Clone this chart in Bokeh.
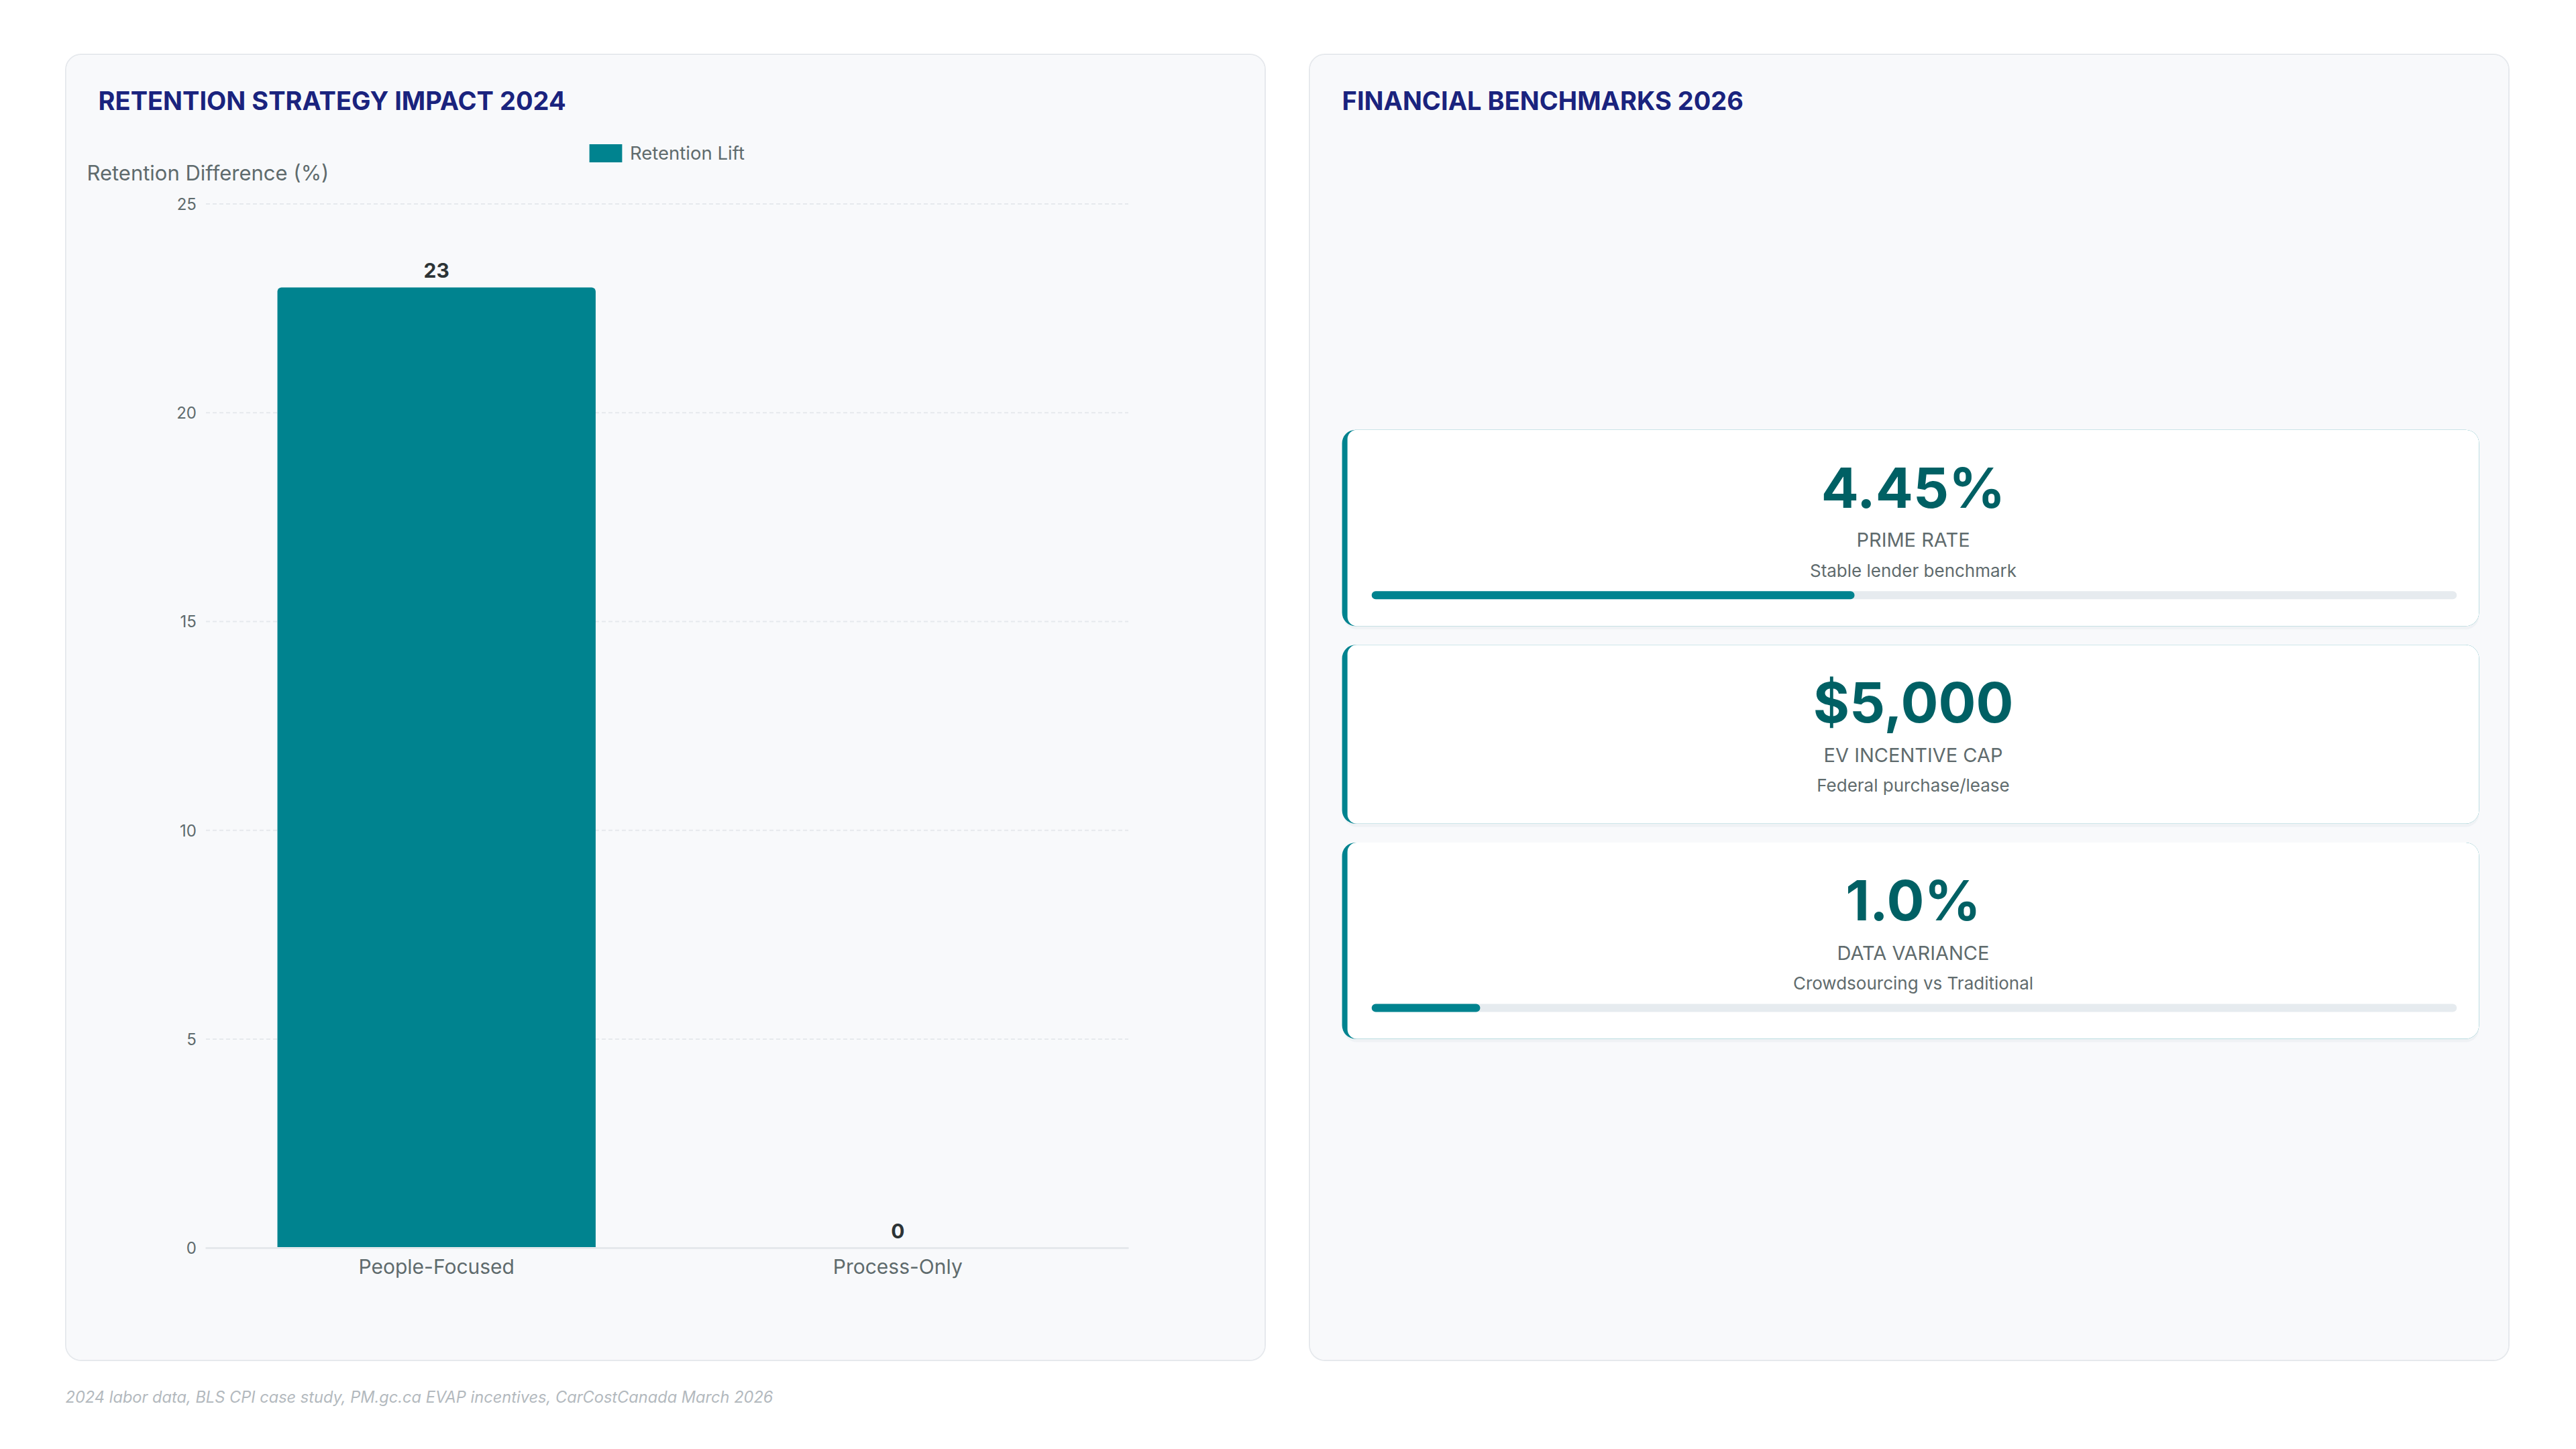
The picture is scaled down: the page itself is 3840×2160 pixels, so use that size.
from bokeh.plotting import figure
from bokeh.models import (FactorRange, Range1d, FixedTicker, Legend, LegendItem,
                          LabelSet, ColumnDataSource)
from bokeh.layouts import row, column
from bokeh.embed import file_html
from bokeh.resources import INLINE
from bokeh.core.properties import value

# ---------------- data ----------------
categories = ["People-Focused", "Process-Only"]
retention_lift = [23, 0]
y_ticks = [0, 5, 10, 15, 20, 25]
chart_title = "RETENTION STRATEGY IMPACT 2024"
y_axis_title = "Retention Difference (%)"
series_name = "Retention Lift"

kpi_title = "FINANCIAL BENCHMARKS 2026"
kpi_values = [4.45, 5000, 1.0]
kpi_display = ["4.45%", "$5,000", "1.0%"]
kpi_labels = ["PRIME RATE", "EV INCENTIVE CAP", "DATA VARIANCE"]
kpi_notes = ["Stable lender benchmark", "Federal purchase/lease", "Crowdsourcing vs Traditional"]
kpi_bar_max = [10, None, 10]

footer_text = "2024 labor data, BLS CPI case study, PM.gc.ca EVAP incentives, CarCostCanada March 2026"

# ---------------- style ----------------
FONT = "Inter"
TEAL = "#00838f"
DARK_TEAL = "#006064"
NAVY = "#1a237e"
GRAY = "#5f6b6d"
PANEL_BG = "#f8f9fb"
PANEL_BORDER = "#e6e9ed"
OUTER_W, OUTER_H = 1790, 1949          # panel size incl. 2px border
W, H = OUTER_W - 4, OUTER_H - 4        # drawing area inside the border
panel_styles = {"border": f"2px solid {PANEL_BORDER}", "border-radius": "24px",
                "overflow": "hidden"}

# chart area inside the left panel canvas (pixels)
CH_LEFT, CH_RIGHT = 206, 1578      # from canvas left
CH_TOP, CH_BOTTOM = 221, 1774      # from canvas top
Y_MAX = 25
n_cat = len(categories)
pad_units = ((CH_LEFT + (W - CH_RIGHT)) / 2) / ((CH_RIGHT - CH_LEFT) / n_cat)
px_per_unit = W / (n_cat + 2 * pad_units)
px_per_y = (CH_BOTTOM - CH_TOP) / Y_MAX
y_lo = -(H - CH_BOTTOM) / px_per_y
y_hi = Y_MAX + CH_TOP / px_per_y


def sx(px):   # canvas pixel (from left) -> synthetic x
    return px / px_per_unit - pad_units


def sy(py):   # canvas pixel (from top) -> data y
    return Y_MAX - (py - CH_TOP) / px_per_y


# ---------------- left panel: bar chart ----------------
p = figure(x_range=FactorRange(*categories, range_padding=pad_units, range_padding_units="absolute"),
           y_range=Range1d(y_lo, y_hi), width=OUTER_W, height=OUTER_H,
           output_backend="svg", toolbar_location=None, title=None, min_border=0,
           background_fill_color=PANEL_BG, border_fill_color=PANEL_BG, outline_line_color=None,
           styles=panel_styles)
p.grid.visible = False

# dashed horizontal grid lines across the chart area
p.segment(x0=[0] * len(y_ticks), x1=[n_cat] * len(y_ticks), y0=y_ticks, y1=y_ticks,
          line_color="#e6e9ed", line_width=2, line_dash="6 4")

src = ColumnDataSource(dict(cat=categories, val=retention_lift, txt=[str(v) for v in retention_lift]))
bars = p.vbar(x="cat", top="val", width=0.69, source=src, fill_color=TEAL, line_color=None,
              border_radius=(6, 6, 0, 0))

yax = p.yaxis[0]
yax.fixed_location = 0
yax.ticker = FixedTicker(ticks=y_ticks)
yax.axis_line_color = None
yax.major_tick_line_color = None
yax.minor_tick_line_color = None
yax.major_tick_out = 0
yax.major_tick_in = 0
yax.major_label_standoff = 14
yax.major_label_text_font = FONT
yax.major_label_text_font_size = "24px"
yax.major_label_text_color = GRAY

xax = p.xaxis[0]
xax.fixed_location = 0
xax.bounds = (0, n_cat)
xax.axis_line_color = "#e5e8ec"
xax.axis_line_width = 3
xax.major_tick_line_color = None
xax.major_tick_out = 0
xax.major_tick_in = 0
xax.major_label_standoff = 10
xax.major_label_text_font = FONT
xax.major_label_text_font_size = "30px"
xax.major_label_text_color = GRAY

labels = LabelSet(x="cat", y="val", text="txt", source=src, y_offset=14,
                  text_align="center", text_baseline="alphabetic",
                  text_font=value(FONT), text_font_size="30px", text_font_style="bold",
                  text_color="#2d3436")
p.add_layout(labels)

p.text(x=[sx(47)], y=[sy(67)], text=[chart_title],
       text_font=value(FONT), text_font_size="38px", text_font_style="bold",
       text_color=NAVY, text_baseline="middle", text_align="left")
p.text(x=[sx(390)], y=[sy(175)], text=[y_axis_title],
       text_font=value(FONT), text_font_size="31px", text_color=GRAY,
       text_baseline="middle", text_align="right")

legend = Legend(items=[LegendItem(label=series_name, renderers=[bars])], location=(773, 1786),
                orientation="horizontal", glyph_width=61, glyph_height=34, label_height=34,
                label_standoff=6, padding=0, margin=0, border_line_color=None,
                background_fill_alpha=0, label_text_font=FONT, label_text_font_size="27.5px",
                label_text_color=GRAY)
p.add_layout(legend)

# ---------------- right panel: KPI cards ----------------
q = figure(x_range=Range1d(0, W), y_range=Range1d(0, H), width=OUTER_W, height=OUTER_H,
           output_backend="svg", toolbar_location=None, title=None, min_border=0,
           x_axis_type=None, y_axis_type=None,
           background_fill_color=PANEL_BG, border_fill_color=PANEL_BG, outline_line_color=None,
           styles=panel_styles)
q.grid.visible = False


def Y(y):
    return H - y


q.text(x=[47], y=[Y(67)], text=[kpi_title], text_font=value(FONT), text_font_size="38px",
       text_font_style="bold", text_color=NAVY, text_baseline="middle", text_align="left")

card_tops = [557, 877, 1171]
card_left, card_right = 47, 1738
bar_left, bar_right = 91, 1705
cx = (55 + card_right) / 2
for i, top in enumerate(card_tops):
    h = 292 if kpi_bar_max[i] else 266
    q.quad(left=card_left + 2, right=card_right, top=Y(top + 4), bottom=Y(top + h + 5),
           fill_color="#e9edf1", fill_alpha=0.6, line_color=None, border_radius=20)
    q.quad(left=card_left, right=card_right, top=Y(top), bottom=Y(top + h),
           fill_color=TEAL, line_color=None, border_radius=20)
    q.quad(left=card_left + 8, right=card_right, top=Y(top), bottom=Y(top + h),
           fill_color="white", line_color=None, border_radius=(14, 20, 20, 14))
    q.text(x=[cx], y=[Y(top + 86)], text=[kpi_display[i]], text_font=value(FONT),
           text_font_size="83px", text_font_style="bold", text_color=DARK_TEAL,
           text_align="center", text_baseline="middle")
    q.text(x=[cx], y=[Y(top + 164)], text=[kpi_labels[i]], text_font=value(FONT),
           text_font_size="29px", text_color=GRAY, text_align="center", text_baseline="middle")
    q.text(x=[cx], y=[Y(top + 209)], text=[kpi_notes[i]], text_font=value(FONT),
           text_font_size="26px", text_color=GRAY, text_align="center", text_baseline="middle")
    if kpi_bar_max[i]:
        frac = kpi_values[i] / kpi_bar_max[i]
        q.quad(left=bar_left, right=bar_right, top=Y(top + 240), bottom=Y(top + 252),
               fill_color="#e6ebef", line_color=None, border_radius=6)
        q.quad(left=bar_left, right=bar_left + (bar_right - bar_left) * frac,
               top=Y(top + 240), bottom=Y(top + 252),
               fill_color=TEAL, line_color=None, border_radius=6)

# ---------------- footer ----------------
f = figure(x_range=Range1d(0, 1790), y_range=Range1d(0, 60), width=1790, height=60,
           output_backend="svg", toolbar_location=None, title=None, min_border=0,
           x_axis_type=None, y_axis_type=None, background_fill_color="white",
           border_fill_color="white", outline_line_color=None)
f.grid.visible = False
f.text(x=[0], y=[30], text=[footer_text], text_font=value(FONT), text_font_size="23.6px",
       text_font_style="italic", text_color="#b3b9be", text_align="left", text_baseline="middle")

top_row = row(p, q, spacing=64)
page = column(top_row, f, spacing=23, margin=(80, 0, 0, 97))

open("out.html", "w").write(file_html(page, INLINE))
